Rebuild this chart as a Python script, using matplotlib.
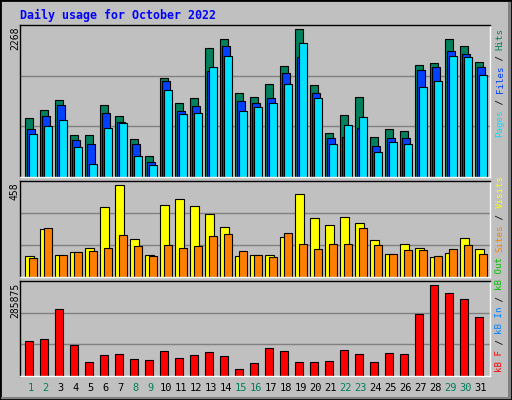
import matplotlib
matplotlib.use('Agg')
import matplotlib.pyplot as plt
from matplotlib.patches import Rectangle

days = list(range(1, 32))
weekend = [1, 2, 8, 9, 15, 16, 22, 23, 29, 30]

hits = [913, 1036, 1190, 652, 652, 1113, 944, 590, 328, 1513, 1144, 1206, 1975, 2114, 1283, 1236,
        1421, 1698, 2268, 1406, 682, 959, 1236, 621, 744, 713, 1713, 1744, 2114, 2006, 1760]
files = [744, 944, 1113, 575, 513, 990, 852, 513, 236, 1467, 1021, 1098, 1621, 2006, 1175, 1129,
         1221, 1590, 1837, 1283, 605, 621, 759, 482, 605, 605, 1637, 1683, 1929, 1883, 1683]
pages = [667, 790, 882, 467, 205, 759, 836, 328, 190, 1329, 975, 990, 1683, 1852, 1021, 1082,
         1144, 1421, 2052, 1221, 513, 805, 929, 390, 544, 513, 1375, 1467, 1852, 1837, 1560]
visits = [106, 240, 111, 126, 145, 349, 458, 190, 111, 359, 388, 354, 314, 250, 106, 111,
          111, 200, 413, 294, 260, 299, 269, 185, 116, 165, 145, 101, 121, 195, 141]
sites = [96, 245, 111, 126, 131, 145, 210, 155, 106, 160, 145, 155, 205, 215, 131, 111,
         101, 220, 165, 141, 165, 165, 245, 160, 116, 136, 136, 106, 141, 160, 116]
kbytes = [110558, 116816, 210686, 98042, 44849, 66752, 69881, 54236, 51107, 79268, 57365,
          66752, 76139, 63623, 22946, 41720, 88655, 79268, 44849, 44849, 47978, 82397, 69881,
          44849, 73010, 69881, 195041, 285875, 260750, 241976, 185654]

BG = '#C0C0C0'
W, H = 512, 400
fig = plt.figure(figsize=(W / 100, H / 100), dpi=100, facecolor=BG)
mono = 'DejaVu Sans Mono'


def fx(px):
    return px / W


def fy(py):
    return 1 - py / H


# outer frame with bevel
fig.patches.append(Rectangle((0, 0), 1, 1, transform=fig.transFigure, fill=False,
                             edgecolor='black', linewidth=2))
fig.patches.append(Rectangle((fx(1), fy(399)), fx(510), fy(397) - fy(399), transform=fig.transFigure,
                             facecolor='#808080', edgecolor='none'))
fig.patches.append(Rectangle((fx(508), fy(398)), fx(3), fy(2) - fy(398), transform=fig.transFigure,
                             facecolor='#808080', edgecolor='none'))


def panel(top, bottom):
    ax = fig.add_axes([fx(20), fy(bottom), fx(470), (bottom - top) / H])
    ax.set_facecolor(BG)
    ax.set_xlim(0, 31.33)
    ax.set_xticks([])
    ax.set_yticks([])
    for s in ax.spines.values():
        s.set_linewidth(1)
    ax.spines['right'].set_color('white')
    ax.spines['bottom'].set_color('white')
    ax.spines['top'].set_color('black')
    ax.spines['left'].set_color('black')
    return ax


x = [d - 1 for d in days]
ek = dict(edgecolor='black', linewidth=0.8, align='edge')

ax1 = panel(25, 177)
top1 = max(hits) * 455 / 442
ax1.set_ylim(0, top1)
for g in (top1 / 3, top1 * 2 / 3):
    ax1.axhline(g, color='#808080', linewidth=1, zorder=0)
ax1.bar([i + 0.33 for i in x], hits, width=0.52, color='#00805C', **ek)
ax1.bar([i + 0.47 for i in x], files, width=0.52, color='#0040FF', **ek)
ax1.bar([i + 0.6 for i in x], pages, width=0.52, color='#00E0FF', **ek)

ax2 = panel(181, 277)
top2 = max(visits) * 288 / 277
ax2.set_ylim(0, top2)
for g in (top2 / 3, top2 * 2 / 3):
    ax2.axhline(g, color='#808080', linewidth=1, zorder=0)
ax2.bar([i + 0.33 for i in x], visits, width=0.57, color='#FFFF00', **ek)
ax2.bar([i + 0.6 for i in x], sites, width=0.52, color='#FF8000', **ek)

ax3 = panel(281, 376)
top3 = max(kbytes) * 285 / 274
ax3.set_ylim(0, top3)
for g in (top3 / 3, top3 * 2 / 3):
    ax3.axhline(g, color='#808080', linewidth=1, zorder=0)
ax3.bar([i + 0.33 for i in x], kbytes, width=0.52, color='#FF0000', **ek)

# day labels
for d in days:
    ax3.text(d - 1 + 0.72, -0.13, str(d), transform=ax3.get_xaxis_transform(), ha='center', va='center',
             family=mono, fontsize=7.5, color='#00805C' if d in weekend else 'black')

fig.text(fx(20), fy(15), 'Daily usage for October 2022', family=mono, fontweight='bold',
         fontsize=8.4, color='#0000FF', va='center', ha='left')

# left max labels
for label, py in ((str(max(hits)), 27), (str(max(visits)), 182), (str(max(kbytes)), 283)):
    fig.text(fx(15), fy(py), label, rotation=90, family=mono, fontsize=7, ha='center', va='top')


def side_label(pieces, bottom_px):
    adv = 5.45
    pos = 0
    for txt, col in pieces:
        if txt.strip():
            fig.text(fx(500), fy(bottom_px - pos * adv), txt, rotation=90, family=mono,
                     fontsize=6.6, color=col, ha='center', va='bottom')
        pos += len(txt)


side_label([('Pages', '#00E0FF'), (' / ', 'black'), ('Files', '#0040FF'), (' / ', 'black'),
            ('Hits', '#00805C')], 137)
side_label([('kB F', '#FF0000'), (' / ', 'black'), ('kB In', '#0080FF'), (' / ', 'black'),
            ('kB Out', '#00C000'), (' ', 'black'), ('Sites', '#FF8000'), (' / ', 'black'),
            ('Visits', '#FFFF00')], 372)

fig.savefig('out.png', dpi=100, facecolor=BG)
